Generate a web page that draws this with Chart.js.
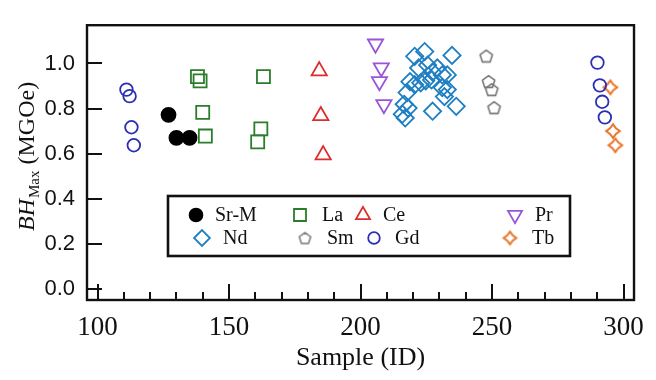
<!DOCTYPE html>
<html>
<head>
<meta charset="utf-8">
<script src="https://cdn.jsdelivr.net/npm/chart.js@4.4.1/dist/chart.umd.min.js"></script>
<style>
  html, body { margin: 0; padding: 0; background: #ffffff; }
  canvas { display: block; }
</style>
</head>
<body>
<canvas id="chart" width="656" height="380"></canvas>
<script>
// Maximum energy product BH_Max (MGOe) versus sample ID, grouped by dopant
const srmSample = [127, 130, 135];
const srmBH     = [0.772, 0.670, 0.670];

const laSample = [138.0, 139.0, 140.0, 141.0, 163.1, 162.1, 160.9];
const laBH     = [0.942, 0.923, 0.783, 0.678, 0.942, 0.710, 0.652];

const ceSample = [184.3, 184.9, 185.8];
const ceBH     = [0.967, 0.768, 0.594];

const prSample = [205.7, 207.9, 207.2, 208.9];
const prBH     = [1.087, 0.981, 0.920, 0.818];

const ndSample = [220.6, 224.4, 234.8, 222.1, 225.5, 227.4, 229.2, 231.1, 233.0, 218.8, 220.6, 222.9,
                  224.8, 227.0, 231.1, 233.0, 231.9, 217.7, 216.6, 218.1, 215.9, 217.0, 227.4, 236.4];
const ndBH     = [1.032, 1.053, 1.036, 0.980, 0.993, 0.962, 0.980, 0.949, 0.949, 0.919, 0.906, 0.914,
                  0.923, 0.927, 0.893, 0.884, 0.853, 0.871, 0.819, 0.802, 0.775, 0.758, 0.788, 0.810];

const smSample = [247.8, 248.7, 249.9, 250.8];
const smBH     = [1.033, 0.920, 0.884, 0.804];

const gdSample = [111.0, 112.2, 112.9, 113.8, 290.1, 291.0, 291.9, 292.9];
const gdBH     = [0.884, 0.855, 0.717, 0.637, 1.004, 0.903, 0.830, 0.761];

const tbSample = [295.0, 296.0, 296.9];
const tbBH     = [0.894, 0.700, 0.637];

// Axis ticks
const sampleTicks = [100, 150, 200, 250, 300];
const bhTicks = [0.0, 0.2, 0.4, 0.6, 0.8, 1.0];

const SERIF = '"Liberation Serif", "Times New Roman", serif';
const SANS = '"Liberation Sans", Arial, sans-serif';

// Custom marker sprites: pentagon (Sm) and pinched diamond (Tb)
function pentagonSprite(color, r, lw) {
  const s = Math.ceil(2 * r + 2 * lw + 2);
  const c = document.createElement('canvas');
  c.width = s; c.height = s;
  const g = c.getContext('2d');
  g.strokeStyle = color; g.lineWidth = lw; g.lineJoin = 'round';
  g.beginPath();
  for (let i = 0; i < 5; i++) {
    const a = -Math.PI / 2 + i * 2 * Math.PI / 5;
    const px = s / 2 + r * Math.cos(a), py = s / 2 + r * Math.sin(a) + r * 0.1;
    if (i === 0) g.moveTo(px, py); else g.lineTo(px, py);
  }
  g.closePath(); g.stroke();
  return c;
}
function starSprite(color, r, lw) {
  const s = Math.ceil(2 * r + 2 * lw + 2);
  const c = document.createElement('canvas');
  c.width = s; c.height = s;
  const g = c.getContext('2d');
  g.strokeStyle = color; g.lineWidth = lw; g.lineJoin = 'miter';
  g.beginPath();
  const inner = r * 0.6;
  for (let i = 0; i < 8; i++) {
    const a = -Math.PI / 2 + i * Math.PI / 4;
    const rr = i % 2 === 0 ? r : inner;
    const px = s / 2 + rr * Math.cos(a), py = s / 2 + rr * Math.sin(a);
    if (i === 0) g.moveTo(px, py); else g.lineTo(px, py);
  }
  g.closePath(); g.stroke();
  return c;
}

const COLORS = {
  srm: '#000000', la: '#2b7d2b', ce: '#dd2c2c', pr: '#9a55d6',
  nd: '#1e7fc2', sm: '#777777', gd: '#2b2fb3', tb: '#ea7328'
};

const smSprite = pentagonSprite(COLORS.sm, 6.5, 1.6);
const tbSprite = starSprite(COLORS.tb, 6.8, 2);
const smLegendSprite = pentagonSprite(COLORS.sm, 6, 1.5);
const tbLegendSprite = starSprite(COLORS.tb, 6.3, 2);

function pts(xs, ys) { return xs.map((x, i) => ({ x: x, y: ys[i] })); }

const series = [
  { key: 'srm', label: 'Sr-M', xs: srmSample, ys: srmBH, style: 'circle', radius: 7, fill: true, rot: 0 },
  { key: 'la', label: 'La', xs: laSample, ys: laBH, style: 'rect', radius: 9.2, rot: 0 },
  { key: 'ce', label: 'Ce', xs: ceSample, ys: ceBH, style: 'triangle', radius: 8.8, rot: 0 },
  { key: 'pr', label: 'Pr', xs: prSample, ys: prBH, style: 'triangle', radius: 8.8, rot: 180 },
  { key: 'nd', label: 'Nd', xs: ndSample, ys: ndBH, style: 'rectRot', radius: 8.6, rot: 0 },
  { key: 'sm', label: 'Sm', xs: smSample, ys: smBH, style: smSprite, radius: 7, rot: 0 },
  { key: 'gd', label: 'Gd', xs: gdSample, ys: gdBH, style: 'circle', radius: 6.3, rot: 0 },
  { key: 'tb', label: 'Tb', xs: tbSample, ys: tbBH, style: tbSprite, radius: 7, rot: 0 }
];

const datasets = series.map(s => ({
  label: s.label,
  data: pts(s.xs, s.ys),
  pointStyle: s.style,
  pointRadius: s.radius,
  pointRotation: s.rot,
  pointBorderWidth: 1.8,
  borderColor: COLORS[s.key],
  pointBorderColor: COLORS[s.key],
  pointBackgroundColor: s.fill ? COLORS[s.key] : 'rgba(0,0,0,0)',
  showLine: false
}));

// Legend layout: [series key, marker x, text x, row y]
const legendItems = [
  ['srm', 196, 215, 215], ['la', 300, 322, 215], ['ce', 363, 383, 215], ['pr', 515, 535, 215],
  ['nd', 202, 223, 238], ['sm', 305, 327, 238], ['gd', 374, 395, 238], ['tb', 510, 532, 238]
];

const framePlugin = {
  id: 'frame',
  afterDraw(chart) {
    const ctx = chart.ctx;
    const a = chart.chartArea;
    const xs = chart.scales.x, ys = chart.scales.y;
    ctx.save();
    ctx.strokeStyle = '#111';
    ctx.lineWidth = 2;
    ctx.lineCap = 'butt';
    // inward tick marks
    ctx.beginPath();
    bhTicks.forEach(v => {
      const py = Math.round(ys.getPixelForValue(v));
      ctx.moveTo(a.left, py); ctx.lineTo(a.left + 15, py);
    });
    for (let v = 100; v <= 300; v += 10) {
      const px = Math.round(xs.getPixelForValue(v));
      const len = (v % 50 === 0) ? 16 : 8;
      ctx.moveTo(px, a.bottom); ctx.lineTo(px, a.bottom - len);
    }
    ctx.stroke();
    // plot frame
    ctx.lineWidth = 2.4;
    ctx.strokeRect(a.left, a.top, a.right - a.left, a.bottom - a.top);

    // x-axis title
    ctx.fillStyle = '#111';
    ctx.font = '26px ' + SERIF;
    ctx.textAlign = 'center';
    ctx.textBaseline = 'alphabetic';
    ctx.fillText('Sample (ID)', (a.left + a.right) / 2, 365);

    // y-axis title with subscript, reading upwards
    ctx.translate(34, 231);
    ctx.rotate(-Math.PI / 2);
    ctx.textAlign = 'left';
    ctx.font = 'italic 24px ' + SERIF;
    ctx.fillText('BH', 0, 0);
    let w = ctx.measureText('BH').width;
    ctx.font = '15px ' + SERIF;
    ctx.fillText('Max', w + 1, 5);
    w += 1 + ctx.measureText('Max').width;
    ctx.font = '24px ' + SERIF;
    ctx.fillText(' (MGOe)', w, 0);
    ctx.restore();

    // legend box
    ctx.save();
    ctx.fillStyle = '#ffffff';
    ctx.fillRect(168, 196, 402, 60);
    ctx.strokeStyle = '#111';
    ctx.lineWidth = 2.6;
    ctx.strokeRect(168, 196, 402, 60);
    ctx.font = '20px ' + SERIF;
    ctx.textAlign = 'left';
    ctx.textBaseline = 'middle';
    legendItems.forEach(([key, mx, tx, ry]) => {
      const s = series.find(q => q.key === key);
      ctx.strokeStyle = COLORS[key];
      ctx.fillStyle = s.fill ? COLORS[key] : 'rgba(0,0,0,0)';
      ctx.lineWidth = 1.8;
      let style = s.style;
      if (key === 'sm') style = smLegendSprite;
      if (key === 'tb') style = tbLegendSprite;
      Chart.helpers.drawPoint(ctx, {
        pointStyle: style, radius: s.radius * 0.92, rotation: s.rot, borderWidth: 1.8
      }, mx, ry);
      ctx.fillStyle = '#111';
      ctx.fillText(s.label, tx, ry + 1);
    });
    ctx.restore();
  }
};

new Chart(document.getElementById('chart'), {
  type: 'scatter',
  data: { datasets: datasets },
  options: {
    responsive: false,
    devicePixelRatio: 1,
    animation: false,
    events: [],
    layout: { padding: { left: 0, top: 21, right: 13, bottom: 0 } },
    plugins: { legend: { display: false }, tooltip: { enabled: false } },
    scales: {
      x: {
        type: 'linear',
        min: 96, max: 304,
        afterBuildTicks: s => { s.ticks = sampleTicks.map(v => ({ value: v })); },
        afterFit: s => { s.height = 80; },
        grid: { display: false, drawTicks: false },
        border: { display: false },
        ticks: {
          padding: 12, color: '#111', maxRotation: 0,
          font: { family: SERIF, size: 27 },
          callback: v => String(v)
        }
      },
      y: {
        type: 'linear',
        min: -0.05, max: 1.17,
        afterBuildTicks: s => { s.ticks = bhTicks.map(v => ({ value: v })); },
        afterFit: s => { s.width = 87; },
        grid: { display: false, drawTicks: false },
        border: { display: false },
        ticks: {
          padding: 12, color: '#111',
          font: { family: SANS, size: 22 },
          callback: v => Number(v).toFixed(1)
        }
      }
    }
  },
  plugins: [framePlugin]
});
</script>
</body>
</html>
